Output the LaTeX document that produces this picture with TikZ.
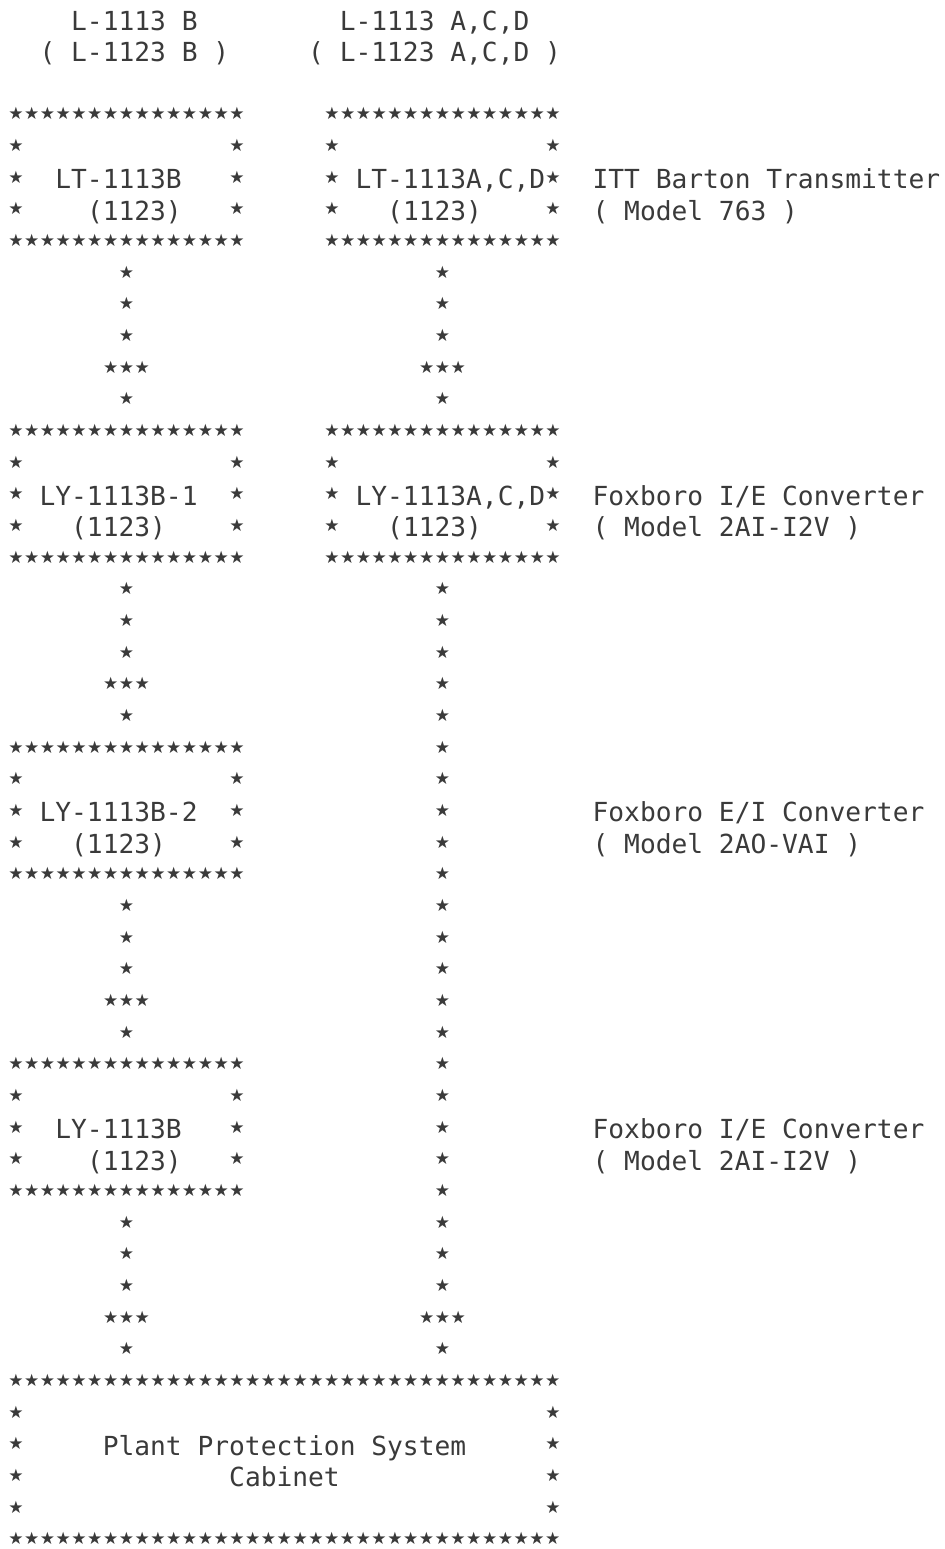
\documentclass[tikz,border=0pt]{standalone}
\usepackage{fontspec}
\newfontfamily\twfont{DejaVu Sans Mono}
\newfontfamily\starfont{DejaVu Sans}
\newlength\cw
\newcommand\twsize{\fontsize{13.122pt}{15pt}\selectfont}
\newcommand\pst{\makebox[\cw][c]{\raisebox{2.6pt}{\starfont\fontsize{8.5pt}{9pt}\selectfont ★}}}
\newcommand\psts[1]{\foreach \k in {1,...,#1}{\pst}}
\newcommand\gp[1]{\hspace*{#1\cw}}
\definecolor{ink}{HTML}{3A3A3A}
\tikzset{row/.style={anchor=base west, inner sep=0pt, outer sep=0pt, font=\twfont\twsize, text=ink}}
\begin{document}
\settowidth{\cw}{\twfont\twsize 0}
\begin{tikzpicture}[x=0.5pt,y=-0.5pt,declare function={bl(\n)=30+(\n-1)*31.67;}]
\fill[white] (0,0) rectangle (945,1549);
\useasboundingbox (0,0) rectangle (945,1549);
% header
\node[row] (r1) at (8,{bl(1)}) {\gp{4}L-1113 B\gp{9}L-1113 A,C,D};
\node[row] (r2) at (8,{bl(2)}) {\gp{2}( L-1123 B )\gp{5}( L-1123 A,C,D )};
% box rows
\foreach \n in {4,8,14,18} {\node[row] (r\n) at (8,{bl(\n)}) {\psts{15}\gp{5}\psts{15}};}
\foreach \n in {5,15} {\node[row] (r\n) at (8,{bl(\n)}) {\pst\gp{13}\pst\gp{5}\pst\gp{13}\pst};}
\node[row] (r6) at (8,{bl(6)}) {\pst\gp{2}LT-1113B\gp{3}\pst\gp{5}\pst\gp{1}LT-1113A,C,D\pst\gp{2}ITT Barton Transmitter};
\node[row] (r7) at (8,{bl(7)}) {\pst\gp{4}(1123)\gp{3}\pst\gp{5}\pst\gp{3}(1123)\gp{4}\pst\gp{2}( Model 763 )};
\node[row] (r16) at (8,{bl(16)}) {\pst\gp{1}LY-1113B-1\gp{2}\pst\gp{5}\pst\gp{1}LY-1113A,C,D\pst\gp{2}Foxboro I/E Converter};
\node[row] (r17) at (8,{bl(17)}) {\pst\gp{3}(1123)\gp{4}\pst\gp{5}\pst\gp{3}(1123)\gp{4}\pst\gp{2}( Model 2AI-I2V )};
% connector rows
\foreach \n in {9,10,11,13,19,20,21,23,29,30,31,33,39,40,41,43} {\node[row] (r\n) at (8,{bl(\n)}) {\gp{7}\pst\gp{19}\pst};}
\foreach \n in {12,42} {\node[row] (r\n) at (8,{bl(\n)}) {\gp{6}\psts{3}\gp{17}\psts{3}};}
\foreach \n in {22,32} {\node[row] (r\n) at (8,{bl(\n)}) {\gp{6}\psts{3}\gp{18}\pst};}
% lower left boxes
\foreach \n in {24,28,34,38} {\node[row] (r\n) at (8,{bl(\n)}) {\psts{15}\gp{12}\pst};}
\foreach \n in {25,35} {\node[row] (r\n) at (8,{bl(\n)}) {\pst\gp{13}\pst\gp{12}\pst};}
\node[row] (r26) at (8,{bl(26)}) {\pst\gp{1}LY-1113B-2\gp{2}\pst\gp{12}\pst\gp{9}Foxboro E/I Converter};
\node[row] (r27) at (8,{bl(27)}) {\pst\gp{3}(1123)\gp{4}\pst\gp{12}\pst\gp{9}( Model 2AO-VAI )};
\node[row] (r36) at (8,{bl(36)}) {\pst\gp{2}LY-1113B\gp{3}\pst\gp{12}\pst\gp{9}Foxboro I/E Converter};
\node[row] (r37) at (8,{bl(37)}) {\pst\gp{4}(1123)\gp{3}\pst\gp{12}\pst\gp{9}( Model 2AI-I2V )};
% cabinet
\foreach \n in {44,49} {\node[row] (r\n) at (8,{bl(\n)}) {\psts{35}};}
\foreach \n in {45,48} {\node[row] (r\n) at (8,{bl(\n)}) {\pst\gp{33}\pst};}
\node[row] (r46) at (8,{bl(46)}) {\pst\gp{5}Plant Protection System\gp{5}\pst};
\node[row] (r47) at (8,{bl(47)}) {\pst\gp{13}Cabinet\gp{13}\pst};
\end{tikzpicture}
\end{document}
